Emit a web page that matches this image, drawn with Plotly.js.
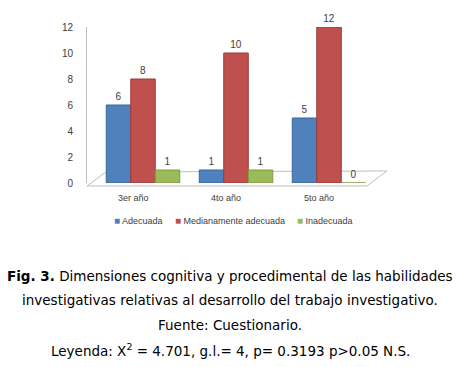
<!DOCTYPE html>
<html><head><meta charset="utf-8">
<script src="https://cdn.plot.ly/plotly-3.0.1.min.js"></script>
<style>html,body{margin:0;padding:0;background:#fff}#c{width:463px;height:367px}</style>
</head><body><div id="c"></div>
<script>
const categories = ["3er año", "4to año", "5to año"];
const adecuada = [6, 1, 5];
const medianamente = [8, 10, 12];
const inadecuada = [1, 1, 0];
const seriesNames = ["Adecuada", "Medianamente adecuada", "Inadecuada"];
const yTicks = [0, 2, 4, 6, 8, 10, 12];

const colors = ["#4F81BD", "#C0504D", "#9BBB59"];
const lineColors = ["#3A6599", "#9A3B38", "#7A9A3E"];
const series = [adecuada, medianamente, inadecuada];

const lf = "Liberation Sans, Arial, sans-serif";
const traces = series.map((vals, i) => ({
  type: "bar",
  x: categories,
  y: vals,
  name: seriesNames[i],
  showlegend: false,
  marker: {color: colors[i], line: {color: lineColors[i], width: 1}},
  text: vals.map(String),
  textposition: "outside",
  cliponaxis: false,
  textfont: {family: lf, size: 10, color: "#404040"}
}));

const px = x => (x - 87) / 289;
const py = y => (183 - y) / 156;

// category labels (shifted left like the 3-D perspective of the original)
const catAnn = categories.map(c => ({
  xref: "x", yref: "paper", x: c, y: py(198), xshift: -10, xanchor: "center", yanchor: "middle",
  showarrow: false, text: c, font: {family: lf, size: 9, color: "#404040"}
}));

// legend drawn as text entries (pixel x of each entry's left edge)
const legendX = [112, 173, 295];
const legendAnn = seriesNames.map((n, i) => ({
  xref: "paper", yref: "paper", x: px(legendX[i]), y: py(220), xanchor: "left", yanchor: "middle",
  showarrow: false,
  text: '<span style="color:' + colors[i] + ';font-size:10px">■</span> ' + n,
  font: {family: lf, size: 9, color: "#404040"}
}));

const f = "DejaVu Sans, Verdana, sans-serif";
const captions = [
  ["<b>Fig. 3.</b> Dimensiones cognitiva y procedimental de las habilidades", 276],
  ["investigativas relativas al desarrollo del trabajo investigativo.", 300],
  ["Fuente: Cuestionario.", 325],
  ["Leyenda: X<sup>2</sup> = 4.701, g.l.= 4, p= 0.3193 p>0.05 N.S.", 350]
];
const capAnn = captions.map(c => ({
  xref: "paper", yref: "paper", x: px(230), y: py(c[1]), xanchor: "center", yanchor: "middle",
  showarrow: false, text: c[0], font: {family: f, size: 13.5, color: "#000"}
}));

const layout = {
  width: 463, height: 367,
  margin: {l: 87, r: 87, t: 27, b: 184},
  paper_bgcolor: "#fff", plot_bgcolor: "rgba(0,0,0,0)",
  barmode: "group", bargap: 0.21, bargroupgap: 0,
  showlegend: false,
  xaxis: {range: [-0.602, 2.505], showline: false, showgrid: false, zeroline: false,
    ticks: "", showticklabels: false},
  yaxis: {range: [0, 12], tickvals: yTicks, showgrid: false, zeroline: false,
    showline: true, linecolor: "#bfbfbf", linewidth: 1, ticks: "", ticklabelstandoff: 11,
    tickfont: {family: lf, size: 10, color: "#404040"}},
  shapes: [{type: "path", xref: "paper", yref: "paper", layer: "below",
    path: "M 0 -0.019 L 0.066 0.071 L 1.038 0.077 L 0.969 -0.019 Z",
    line: {color: "#bfbfbf", width: 1}, fillcolor: "rgba(0,0,0,0)"}],
  annotations: catAnn.concat(legendAnn, capAnn)
};
Plotly.newPlot("c", traces, layout, {displayModeBar: false, staticPlot: true});
</script></body></html>
